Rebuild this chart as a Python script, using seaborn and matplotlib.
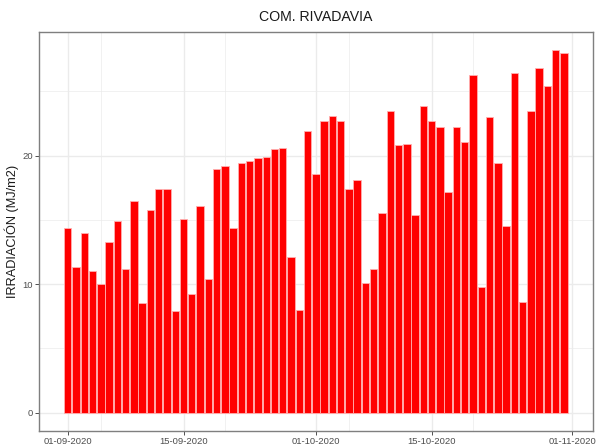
import pandas as pd
import matplotlib
matplotlib.use("Agg")
import matplotlib.pyplot as plt
import seaborn as sns

# Irradiación diaria, Comodoro Rivadavia, 01-09-2020 a 31-10-2020
dates = pd.date_range("2020-09-01", "2020-10-31", freq="D")
irradiation = [
    14.4, 11.3, 14.0, 11.0, 10.0, 13.3, 14.9, 11.2, 16.5, 8.5,
    15.8, 17.4, 17.4, 7.9, 15.1, 9.2, 16.1, 10.4, 19.0, 19.2,
    14.4, 19.4, 19.6, 19.8, 19.9, 20.5, 20.6, 12.1, 8.0, 21.9,
    18.6, 22.7, 23.1, 22.7, 17.4, 18.1, 10.1, 11.2, 15.5, 23.5,
    20.8, 20.9, 15.4, 23.9, 22.7, 22.2, 17.2, 22.2, 21.1, 26.3,
    9.8, 23.0, 19.4, 14.5, 26.4, 8.6, 23.5, 26.8, 25.4, 28.2,
    28.0,
]
tick_labels = ["01-09-2020", "15-09-2020", "01-10-2020", "15-10-2020", "01-11-2020"]
tick_dates = pd.to_datetime(["2020-09-01", "2020-09-15", "2020-10-01", "2020-10-15", "2020-11-01"])
minor_dates = pd.to_datetime(["2020-09-05", "2020-09-20", "2020-10-05", "2020-10-20"])

df = pd.DataFrame({"fecha": dates.strftime("%d-%m-%Y"), "irr": irradiation})

sns.set_theme(style="white")
plt.rcParams["font.family"] = ["Liberation Sans", "DejaVu Sans"]

fig = plt.figure(figsize=(5.98, 4.46), dpi=100)
ax = fig.add_axes([0.0652, 0.0343, 0.9264, 0.894])

sns.barplot(data=df, x="fecha", y="irr", color="#FF0000", saturation=1,
            width=0.9, edgecolor="#FFB0B0", linewidth=0.6, ax=ax, zorder=3)

# posiciones en días desde el primer dato
pos = lambda d: (d - dates[0]).days
grid_c = "#EBEBEB"
for d in tick_dates:
    ax.axvline(pos(d), color=grid_c, lw=1.0, zorder=0)
for d in minor_dates:
    ax.axvline(pos(d), color=grid_c, lw=0.5, zorder=0)
for v in [0, 10, 20]:
    ax.axhline(v, color=grid_c, lw=1.0, zorder=0)
for v in [5, 15, 25]:
    ax.axhline(v, color=grid_c, lw=0.5, zorder=0)

ax.set_xticks([pos(d) for d in tick_dates])
ax.set_xticklabels(tick_labels)
ax.set_yticks([0, 10, 20])
ax.set_xlim(-3.47, 63.5)
ax.set_ylim(-1.41, 29.63)

ax.tick_params(axis="both", length=3, width=0.6, color="#333333",
               labelsize=6.8, labelcolor="#4D4D4D", pad=1.5, bottom=True, left=True)
for s in ax.spines.values():
    s.set_color("#7F7F7F")
    s.set_linewidth(1.0)

ax.set_xlabel("")
ax.set_ylabel("IRRADIACIÓN (MJ/m2)", fontsize=9.2, color="#1A1A1A", labelpad=2)
ax.set_title("COM. RIVADAVIA", fontsize=10.2, color="#1A1A1A", pad=8)

plt.savefig("out.png", dpi=100)
